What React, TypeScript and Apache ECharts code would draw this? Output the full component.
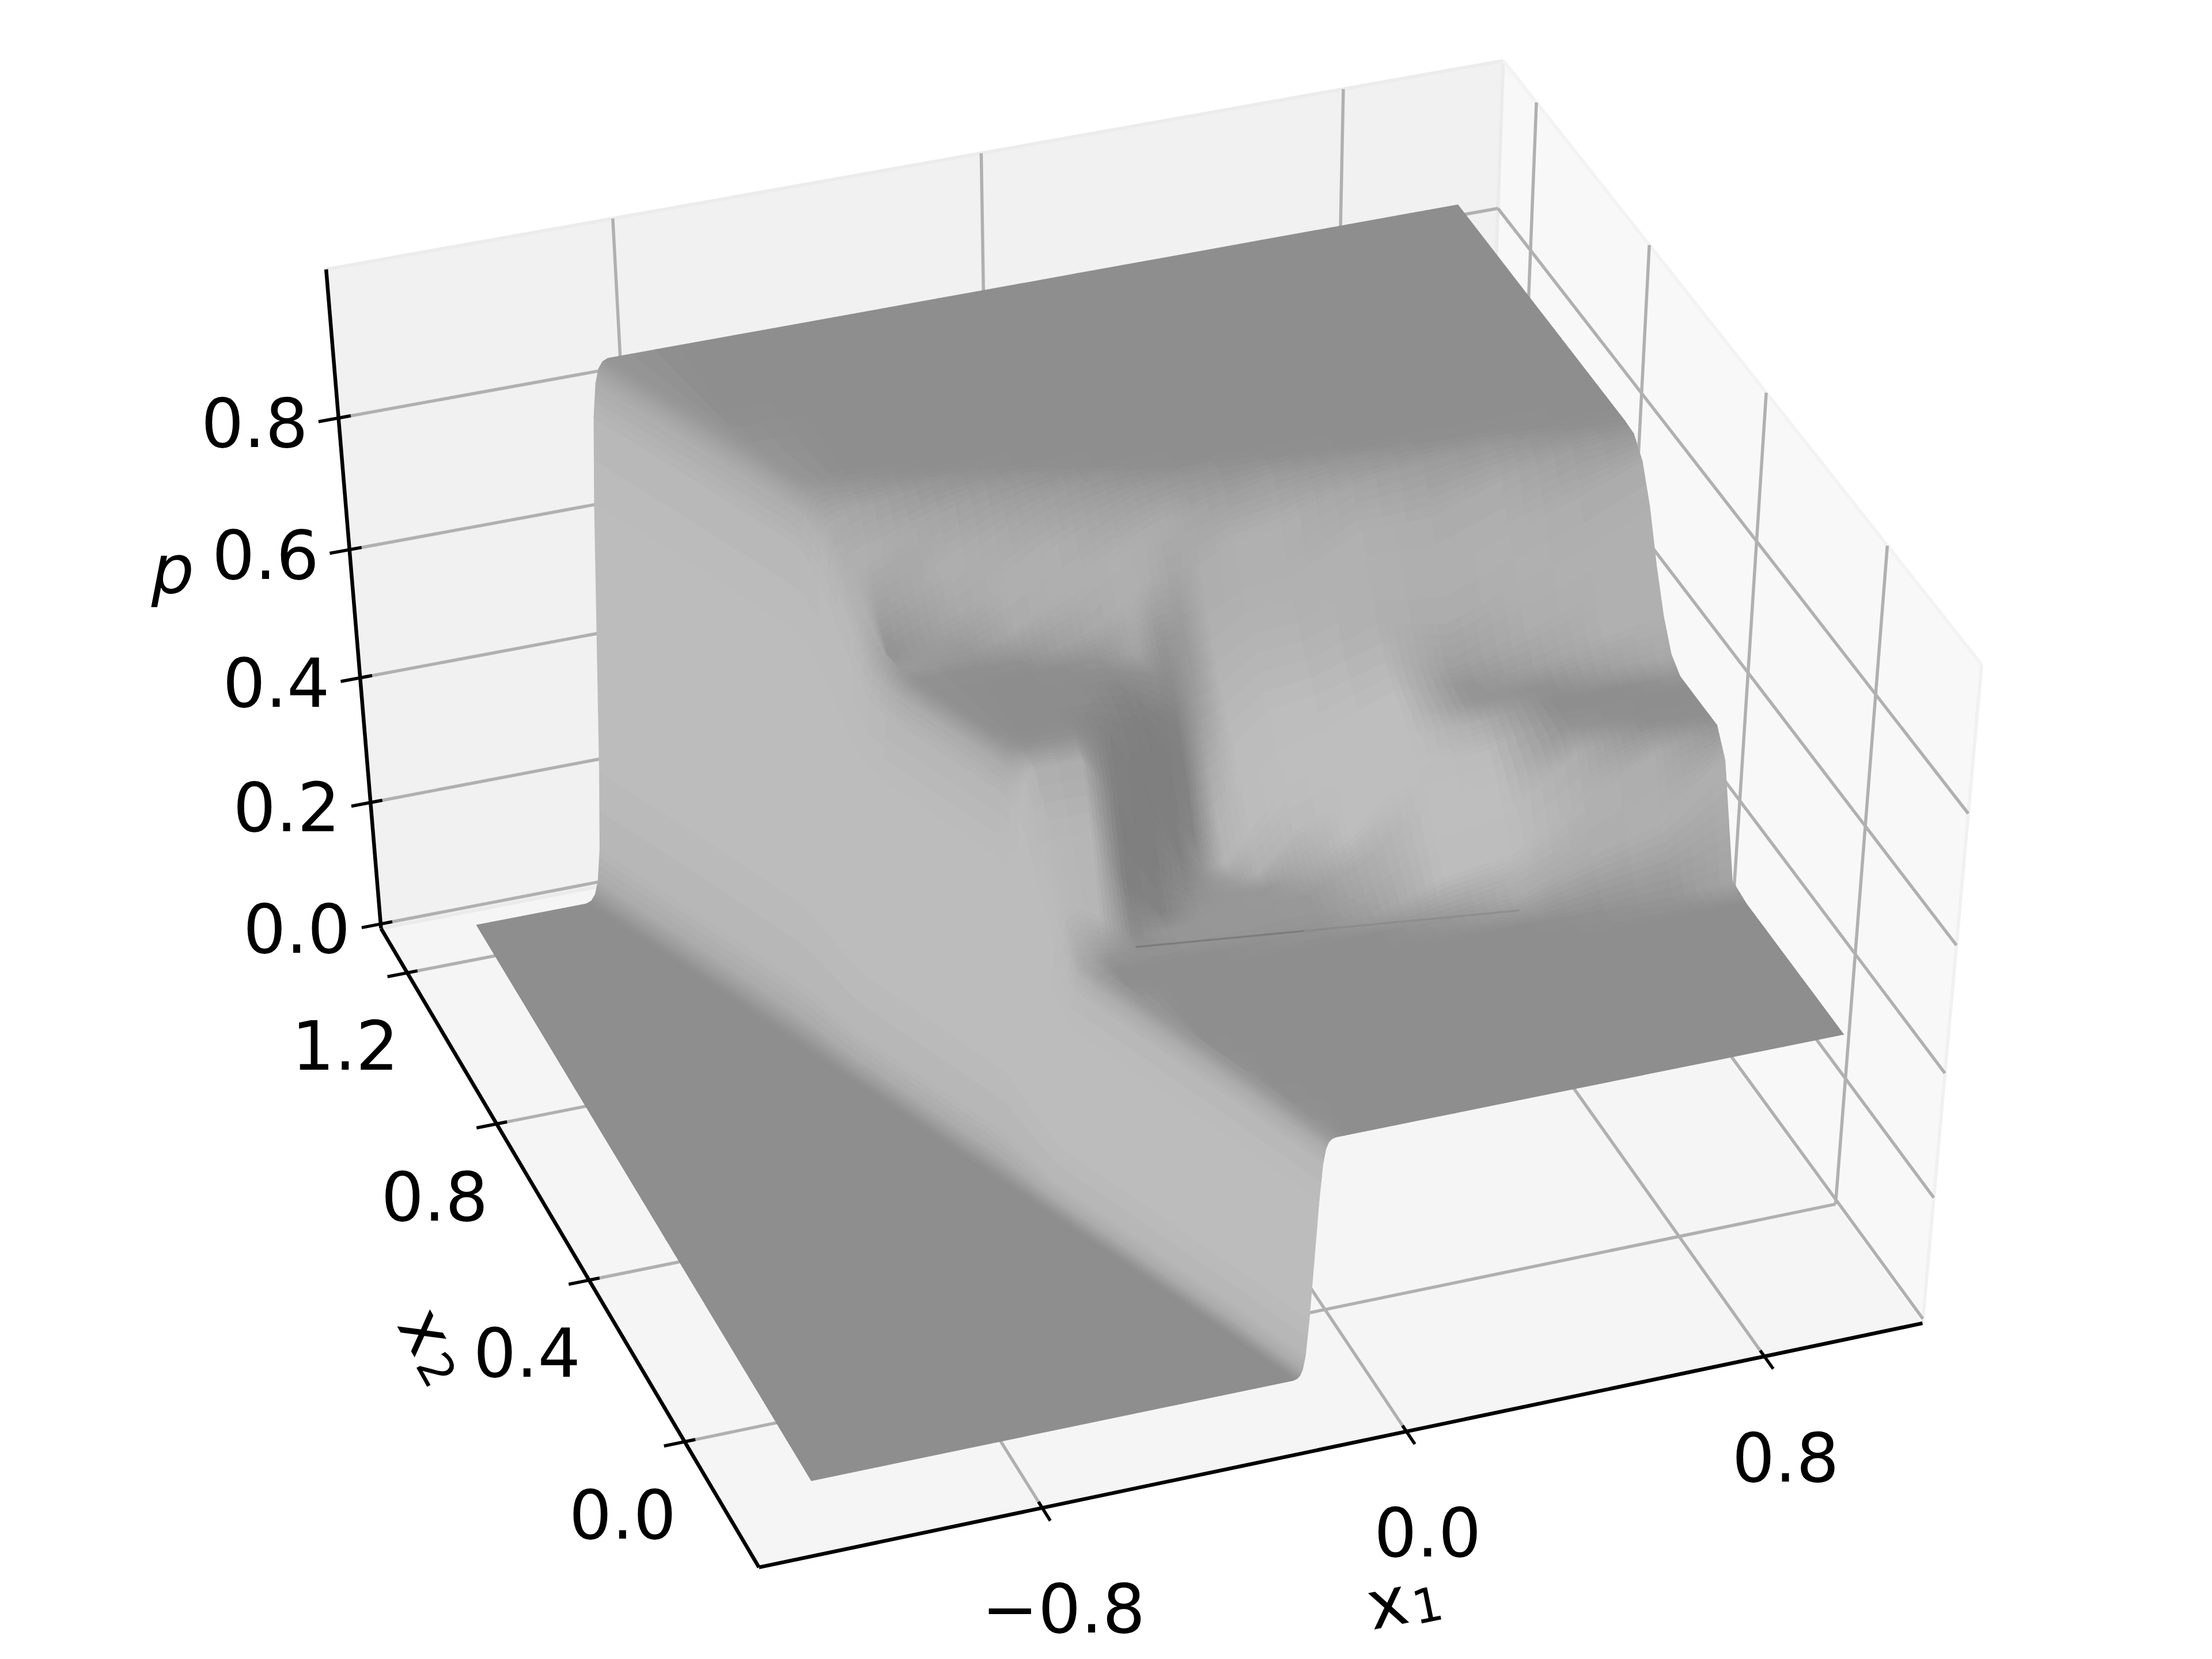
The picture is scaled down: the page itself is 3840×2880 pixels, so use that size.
import React, { useEffect, useRef } from "react";
import * as echarts from "echarts";

// ---------- values ----------
const x1Ticks = [-0.8, 0.0, 0.8];
const x2Ticks = [0.0, 0.4, 0.8, 1.2];
const pTicks = [0.0, 0.2, 0.4, 0.6, 0.8];

const x1Min = -1.2176;
const x2Rows = [-0.15, -0.01, 0.12, 0.185, 0.234, 0.282, 0.315, 0.347, 0.379, 0.412, 0.444, 0.477, 0.509, 0.542, 0.574, 0.606, 0.639, 0.671, 0.704, 0.736, 0.769, 0.801, 0.834, 0.866, 0.898, 0.963, 1.093, 1.272];
// foot and top of the front wave along each x2 row
const waveFoot = [-0.161, -0.2355, -0.31, -0.346, -0.374, -0.4026, -0.4206, -0.4386, -0.4566, -0.4746, -0.4926, -0.5106, -0.5312, -0.5492, -0.5672, -0.5852, -0.6032, -0.6212, -0.6392, -0.6597, -0.6777, -0.6957, -0.7137, -0.7317, -0.7497, -0.7857, -0.8603, -0.9657];
const waveTop = [-0.0776, -0.1437, -0.209, -0.2417, -0.2661, -0.2905, -0.307, -0.3232, -0.3435, -0.3648, -0.3859, -0.4042, -0.4216, -0.4391, -0.4566, -0.4741, -0.4916, -0.5091, -0.5263, -0.5437, -0.5612, -0.5787, -0.5962, -0.6125, -0.631, -0.668, -0.7425, -0.8492];
const waveTopP = [0.384, 0.384, 0.384, 0.384, 0.384, 0.384, 0.384, 0.384, 0.455, 0.545, 0.635, 0.652, 0.652, 0.652, 0.652, 0.652, 0.652, 0.652, 0.652, 0.66, 0.7, 0.76, 0.815, 0.843, 0.845, 0.845, 0.845, 0.845];
const waveTopGray = [150, 150, 150, 150, 150, 150, 155, 165, 184, 184, 180, 148, 145, 145, 145, 145, 145, 146, 155, 165, 176, 176, 170, 155, 150, 150, 150, 150];
const waveWidthFrac = [0, 0.1, 0.18, 0.25, 0.32, 0.4, 0.5, 0.6, 0.68, 0.75, 0.82, 0.9, 1];
const waveHeightFrac = [0, 0.004, 0.015, 0.04, 0.1, 0.25, 0.5, 0.75, 0.9, 0.96, 0.985, 0.996, 1];
const waveGray = [142, 146, 156, 170, 182, 187, 188, 188, 188, 188, 188, 188, 188];
const waveTopBlend = [0, 0, 0, 0, 0, 0, 0, 0, 0.15, 0.4, 0.7, 0.9, 1];

const x1Cols = [-0.693, -0.539, -0.385, -0.282, -0.205, -0.128, -0.05, 0.001, 0.052, 0.104, 0.181, 0.284, 0.438, 0.592, 0.747, 0.901, 1.035];
const creaseX1 = [-0.2165, 0.1312, 0.58];
const creaseX2 = [0.357, 0.318, 0.268];
const creaseP = 0.386;
const _ = null;
const pRows = [
  [_, _, _, _, _, _, 0.384, 0.384, 0.384, 0.384, 0.384, 0.384, 0.384, 0.384, 0.384, 0.384, 0.384],
  [_, _, _, _, _, 0.384, 0.384, 0.384, 0.384, 0.384, 0.384, 0.384, 0.384, 0.384, 0.384, 0.384, 0.384],
  [_, _, _, _, 0.384, 0.384, 0.384, 0.384, 0.384, 0.384, 0.384, 0.384, 0.384, 0.384, 0.384, 0.384, 0.384],
  [_, _, _, _, 0.384, 0.384, 0.384, 0.384, 0.384, 0.384, 0.384, 0.384, 0.384, 0.384, 0.384, 0.384, 0.384],
  [_, _, _, _, 0.384, 0.384, 0.384, 0.384, 0.384, 0.384, 0.384, 0.384, 0.384, 0.384, 0.384, 0.384, 0.39],
  [_, _, _, 0.384, 0.384, 0.384, 0.384, 0.384, 0.384, 0.384, 0.384, 0.384, 0.386, 0.4, 0.44, 0.47, 0.55],
  [_, _, _, 0.384, 0.384, 0.384, 0.384, 0.384, 0.384, 0.384, 0.385, 0.39, 0.43, 0.445, 0.505, 0.56, 0.585],
  [_, _, _, 0.384, 0.384, 0.384, 0.384, 0.384, 0.385, 0.39, 0.39, 0.405, 0.47, 0.485, 0.565, 0.585, 0.585],
  [_, _, _, 0.43, 0.39, 0.387, 0.388, 0.388, 0.39, 0.395, 0.4, 0.43, 0.51, 0.52, 0.585, 0.585, 0.585],
  [_, _, _, 0.545, 0.45, 0.392, 0.392, 0.395, 0.395, 0.4, 0.41, 0.46, 0.545, 0.55, 0.585, 0.585, 0.585],
  [_, _, 0.635, 0.635, 0.56, 0.45, 0.397, 0.4, 0.4, 0.405, 0.46, 0.49, 0.57, 0.575, 0.585, 0.585, 0.585],
  [_, _, 0.652, 0.652, 0.645, 0.56, 0.44, 0.405, 0.41, 0.45, 0.51, 0.53, 0.59, 0.585, 0.59, 0.595, 0.6],
  [_, _, 0.652, 0.652, 0.652, 0.62, 0.5, 0.435, 0.455, 0.5, 0.55, 0.565, 0.605, 0.59, 0.6, 0.625, 0.64],
  [_, _, 0.652, 0.652, 0.652, 0.64, 0.565, 0.51, 0.52, 0.545, 0.59, 0.6, 0.63, 0.6, 0.635, 0.67, 0.7],
  [_, _, 0.652, 0.652, 0.652, 0.652, 0.6, 0.57, 0.575, 0.59, 0.63, 0.635, 0.67, 0.65, 0.69, 0.725, 0.77],
  [_, _, 0.652, 0.652, 0.652, 0.652, 0.64, 0.625, 0.625, 0.635, 0.67, 0.675, 0.72, 0.71, 0.75, 0.785, 0.82],
  [_, _, 0.652, 0.652, 0.652, 0.652, 0.655, 0.668, 0.675, 0.69, 0.72, 0.725, 0.775, 0.775, 0.81, 0.838, 0.843],
  [_, _, 0.652, 0.653, 0.66, 0.68, 0.715, 0.74, 0.745, 0.75, 0.775, 0.785, 0.825, 0.838, 0.845, 0.845, 0.845],
  [_, _, 0.655, 0.68, 0.712, 0.74, 0.765, 0.785, 0.8, 0.81, 0.825, 0.838, 0.845, 0.845, 0.845, 0.845, 0.845],
  [_, 0.66, 0.7, 0.736, 0.765, 0.79, 0.815, 0.83, 0.838, 0.843, 0.845, 0.845, 0.845, 0.845, 0.845, 0.845, 0.845],
  [_, 0.705, 0.755, 0.79, 0.817, 0.838, 0.845, 0.845, 0.845, 0.845, 0.845, 0.845, 0.845, 0.845, 0.845, 0.845, 0.845],
  [_, 0.775, 0.815, 0.838, 0.845, 0.845, 0.845, 0.845, 0.845, 0.845, 0.845, 0.845, 0.845, 0.845, 0.845, 0.845, 0.845],
  [_, 0.825, 0.843, 0.845, 0.845, 0.845, 0.845, 0.845, 0.845, 0.845, 0.845, 0.845, 0.845, 0.845, 0.845, 0.845, 0.845],
  [_, 0.84, 0.845, 0.845, 0.845, 0.845, 0.845, 0.845, 0.845, 0.845, 0.845, 0.845, 0.845, 0.845, 0.845, 0.845, 0.845],
  [_, 0.845, 0.845, 0.845, 0.845, 0.845, 0.845, 0.845, 0.845, 0.845, 0.845, 0.845, 0.845, 0.845, 0.845, 0.845, 0.845],
  [_, 0.845, 0.845, 0.845, 0.845, 0.845, 0.845, 0.845, 0.845, 0.845, 0.845, 0.845, 0.845, 0.845, 0.845, 0.845, 0.845],
  [0.845, 0.845, 0.845, 0.845, 0.845, 0.845, 0.845, 0.845, 0.845, 0.845, 0.845, 0.845, 0.845, 0.845, 0.845, 0.845, 0.845],
  [0.845, 0.845, 0.845, 0.845, 0.845, 0.845, 0.845, 0.845, 0.845, 0.845, 0.845, 0.845, 0.845, 0.845, 0.845, 0.845, 0.845],
];
const grayRows = [
  [_, _, _, _, _, _, 142, 142, 142, 142, 142, 142, 142, 142, 142, 142, 142],
  [_, _, _, _, _, 142, 142, 142, 142, 142, 142, 142, 142, 142, 142, 142, 142],
  [_, _, _, _, 142, 142, 142, 142, 142, 142, 142, 142, 142, 142, 142, 142, 142],
  [_, _, _, _, 142, 142, 142, 142, 142, 142, 142, 142, 142, 142, 142, 142, 142],
  [_, _, _, _, 142, 142, 142, 142, 142, 142, 142, 142, 142, 142, 146, 150, 165],
  [_, _, _, 142, 142, 142, 142, 142, 142, 142, 142, 143, 152, 170, 172, 176, 176],
  [_, _, _, 142, 142, 142, 143, 144, 146, 146, 148, 158, 188, 188, 178, 172, 150],
  [_, _, _, 150, 146, 148, 150, 150, 150, 150, 152, 165, 190, 190, 172, 145, 142],
  [_, _, _, 180, 140, 150, 152, 152, 152, 152, 154, 172, 190, 190, 148, 142, 142],
  [_, _, _, 182, 128, 132, 148, 150, 150, 152, 165, 190, 190, 186, 143, 142, 142],
  [_, _, 175, 170, 127, 126, 140, 150, 158, 175, 185, 190, 190, 172, 142, 142, 150],
  [_, _, 146, 145, 130, 126, 128, 150, 180, 186, 190, 190, 190, 150, 145, 160, 170],
  [_, _, 141, 141, 134, 127, 126, 135, 178, 188, 190, 190, 188, 148, 160, 174, 176],
  [_, _, 141, 141, 139, 130, 126, 130, 170, 186, 188, 188, 182, 158, 172, 176, 176],
  [_, _, 141, 141, 141, 136, 130, 130, 160, 182, 184, 182, 176, 170, 176, 176, 176],
  [_, _, 141, 141, 141, 142, 145, 140, 155, 178, 180, 178, 176, 176, 176, 172, 170],
  [_, _, 141, 141, 143, 148, 165, 150, 155, 174, 176, 176, 176, 172, 170, 158, 153],
  [_, _, 142, 146, 158, 168, 176, 172, 165, 172, 176, 176, 165, 157, 153, 146, 144],
  [_, _, 150, 170, 175, 176, 176, 174, 172, 165, 160, 157, 150, 145, 144, 142, 142],
  [_, 146, 168, 176, 176, 170, 163, 158, 154, 150, 148, 145, 142, 142, 142, 142, 142],
  [_, 160, 176, 170, 163, 156, 150, 146, 144, 142, 142, 142, 142, 142, 142, 142, 142],
  [_, 176, 165, 156, 150, 145, 142, 142, 142, 142, 142, 142, 142, 142, 142, 142, 142],
  [_, 165, 150, 145, 142, 142, 142, 142, 142, 142, 142, 142, 142, 142, 142, 142, 142],
  [_, 150, 142, 142, 142, 142, 142, 142, 142, 142, 142, 142, 142, 142, 142, 142, 142],
  [_, 142, 142, 142, 142, 142, 142, 142, 142, 142, 142, 142, 142, 142, 142, 142, 142],
  [_, 142, 142, 142, 142, 142, 142, 142, 142, 142, 142, 142, 142, 142, 142, 142, 142],
  [142, 142, 142, 142, 142, 142, 142, 142, 142, 142, 142, 142, 142, 142, 142, 142, 142],
  [142, 142, 142, 142, 142, 142, 142, 142, 142, 142, 142, 142, 142, 142, 142, 142, 142],
];

// ---------- 3D camera fitted to the box ----------
const SCALE = 3840 / 1568;
const W_TOP = 0.996;
const toU = (x1: number) => 0.5496 + 0.389 * x1;
const toV = (x2: number) => 0.186 + 0.6167 * x2;
const toW = (p: number) => 0.0073 + 0.97 * p;
const depth = (u: number, v: number, w: number) => 1 + 0.02826 * u + 0.0707 * v - 0.0725 * w;
function project(u: number, v: number, w: number): [number, number] {
  const d = depth(u, v, w);
  return [
    (SCALE * (538 + 863.3 * u - 248.8 * v - 58.6 * w)) / d,
    (SCALE * (1111 - 146.5 * u - 406.3 * v - 516.1 * w)) / d,
  ];
}

type Node = { u: number; v: number; w: number; g: number };
function buildMesh(): Node[][] {
  return x2Rows.map((x2, i) => {
    const v = toV(x2);
    const row: Node[] = [{ u: toU(x1Min), v, w: toW(0), g: 142 }];
    waveWidthFrac.forEach((t, j) => {
      const x = waveFoot[i] + (waveTop[i] - waveFoot[i]) * t;
      const b = waveTopBlend[j];
      row.push({ u: toU(x), v, w: toW(waveTopP[i] * waveHeightFrac[j]), g: waveGray[j] * (1 - b) + waveTopGray[i] * b });
    });
    x1Cols.forEach((x, k) => {
      const p = pRows[i][k];
      if (p === null || x <= waveTop[i]) {
        row.push({ u: toU(waveTop[i]), v, w: toW(waveTopP[i]), g: waveTopGray[i] });
      } else {
        row.push({ u: toU(x), v, w: toW(p), g: grayRows[i][k] as number });
      }
    });
    return row;
  });
}

const grayHex = (g: number) => {
  const c = Math.max(0, Math.min(255, Math.round(g)));
  return `rgb(${c},${c},${c})`;
};

const FONT = { fontFamily: "DejaVu Sans", fontSize: 117, fill: "#000" };
const GRID = "#b0b0b0";

function frameItems() {
  const P = project;
  const items: any[] = [];
  const poly = (pts: number[][], fill: string) => items.push({ kind: "poly", pts: pts.map((q) => P(q[0], q[1], q[2])), fill });
  const line = (a: number[], b: number[], stroke: string, lw: number) =>
    items.push({ kind: "line", a: P(a[0], a[1], a[2]), b: P(b[0], b[1], b[2]), stroke, lw });
  const T = W_TOP;
  // panes
  poly([[0, 0, 0], [1, 0, 0], [1, 1, 0], [0, 1, 0]], "#f5f5f5");
  poly([[0, 1, 0], [1, 1, 0], [1, 1, T], [0, 1, T]], "#f1f1f1");
  poly([[1, 0, 0], [1, 1, 0], [1, 1, T], [1, 0, T]], "#f8f8f8");
  line([0, 1, 0], [1, 1, 0], "#ebebeb", 6);
  line([1, 1, 0], [1, 1, T], "#ebebeb", 6);
  line([0, 1, T], [1, 1, T], "#ececec", 6);
  line([1, 1, T], [1, 0, T], "#f3f3f3", 6);
  line([1, 0, T], [1, 0, 0], "#f1f1f1", 6);
  // grid lines
  x1Ticks.forEach((t) => {
    const u = toU(t);
    line([u, 0, 0], [u, 1, 0], GRID, 5.5);
    line([u, 1, 0], [u, 1, T], GRID, 5.5);
  });
  x2Ticks.forEach((t) => {
    const v = toV(t);
    line([0, v, 0], [1, v, 0], GRID, 5.5);
    line([1, v, 0], [1, v, T], GRID, 5.5);
  });
  pTicks.forEach((t) => {
    const w = toW(t);
    line([0, 1, w], [1, 1, w], GRID, 5.5);
    line([1, 1, w], [1, 0, w], GRID, 5.5);
  });
  // axis lines
  line([0, 0, 0], [1, 0, 0], "#000", 6.5);
  line([0, 0, 0], [0, 1, 0], "#000", 6.5);
  line([0, 1, 0], [0, 1, T], "#000", 6.5);
  // ticks and labels
  const label = (pos: number[], dx: number, dy: number, text: string) =>
    items.push({ kind: "text", pos: [pos[0] + dx * SCALE, pos[1] + dy * SCALE], text, rot: 0, style: {} });
  const fmt = (t: number) => (t < 0 ? "\u2212" : "") + Math.abs(t).toFixed(1);
  x1Ticks.forEach((t) => {
    const u = toU(t);
    line([u, -0.019, 0], [u, 0.009, 0], "#000", 5.5);
    label(P(u, 0, 0), 15, 72, fmt(t));
  });
  x2Ticks.forEach((t) => {
    const v = toV(t);
    line([-0.0175, v, 0], [0.009, v, 0], "#000", 5.5);
    label(P(0, v, 0), -44, 52, fmt(t));
  });
  pTicks.forEach((t) => {
    const w = toW(t);
    line([-0.0168, 1, w], [0.0103, 1, w], "#000", 5.5);
    label(P(0, 1, w), -59.5, 4, fmt(t));
  });
  return items;
}

const axisTitles = [
  { kind: "title", text: "x", sub: "1", pos: [2408, 2783], rot: 0.2 },
  { kind: "title", text: "x", sub: "2", pos: [740, 2310], rot: -1.06 },
  { kind: "text", text: "p", pos: [300, 989], rot: 0, style: { fontStyle: "italic" } },
];

export default function App() {
  const ref = useRef<HTMLDivElement>(null);
  useEffect(() => {
    const chart = echarts.init(ref.current!, undefined, { renderer: "svg" });
    const mesh = buildMesh();
    const quads: number[][] = [];
    for (let i = 0; i < mesh.length - 1; i++) {
      for (let j = 0; j < mesh[i].length - 1; j++) {
        const a = mesh[i][j], c = mesh[i + 1][j + 1];
        quads.push([i, j, depth((a.u + c.u) / 2, (a.v + c.v) / 2, (a.w + c.w) / 2)]);
      }
    }
    quads.sort((q, r) => r[2] - q[2]);
    const frame = frameItems();
    const texts: any[] = frame.filter((f) => f.kind === "text").concat(axisTitles as any[]);
    const lines = frame.filter((f) => f.kind !== "text");
    const crease = creaseX1.map((x, k) => project(toU(x), toV(creaseX2[k]), toW(creaseP)));

    const renderFrame = (_p: any, api: any) => {
      const f = lines[api.value(0)];
      if (f.kind === "poly") {
        return { type: "polygon", shape: { points: f.pts.map((q: number[]) => api.coord(q)) }, style: { fill: f.fill } };
      }
      const a = api.coord(f.a), b = api.coord(f.b);
      return { type: "line", shape: { x1: a[0], y1: a[1], x2: b[0], y2: b[1] }, style: { stroke: f.stroke, lineWidth: f.lw } };
    };
    const renderText = (_p: any, api: any) => {
      const t = texts[api.value(0)];
      const at = api.coord(t.pos);
      if (t.kind === "title") {
        return {
          type: "group",
          x: at[0],
          y: at[1],
          rotation: t.rot,
          children: [
            { type: "text", x: 0, y: 0, style: { text: t.text, align: "center", verticalAlign: "middle", ...FONT } },
            { type: "text", x: 68, y: 18, style: { text: t.sub, align: "center", verticalAlign: "middle", ...FONT, fontSize: 82 } },
          ],
        };
      }
      return {
        type: "text",
        x: at[0],
        y: at[1],
        rotation: t.rot,
        style: { text: t.text, align: "center", verticalAlign: "middle", ...FONT, ...t.style },
      };
    };
    const renderCrease = (_p: any, api: any) => {
      const k = api.value(0);
      const a = api.coord(crease[k]), b = api.coord(crease[k + 1]);
      return {
        type: "line",
        shape: { x1: a[0], y1: a[1], x2: b[0], y2: b[1] },
        style: { stroke: k === 0 ? "rgba(115,115,115,0.7)" : "rgba(125,125,125,0.4)", lineWidth: 3.5 },
      };
    };
    const renderQuad = (_p: any, api: any) => {
      const i = api.value(0), j = api.value(1);
      const nodes = [mesh[i][j], mesh[i][j + 1], mesh[i + 1][j + 1], mesh[i + 1][j]];
      const pts = nodes.map((n) => api.coord(project(n.u, n.v, n.w)));
      let area = 0;
      for (let k = 0; k < 4; k++) {
        const p = pts[k], q = pts[(k + 1) % 4];
        area += p[0] * q[1] - q[0] * p[1];
      }
      if (Math.abs(area) < 1) return null;
      const g = nodes.map((n) => n.g);
      const along = Math.max(Math.abs(g[1] - g[0]), Math.abs(g[2] - g[3]));
      const across = Math.max(Math.abs(g[3] - g[0]), Math.abs(g[2] - g[1]));
      const ns = Math.min(8, Math.max(1, Math.ceil(along / 3)));
      const nt = Math.min(8, Math.max(1, Math.ceil(across / 3)));
      if (ns === 1 && nt === 1) {
        const c = grayHex((g[0] + g[1] + g[2] + g[3]) / 4);
        return { type: "polygon", shape: { points: pts }, style: { fill: c, stroke: c, lineWidth: 1.5 } };
      }
      // draw the cell's shading as small flat pieces
      const at = (s: number, t: number) => [
        pts[0][0] * (1 - s) * (1 - t) + pts[1][0] * s * (1 - t) + pts[2][0] * s * t + pts[3][0] * (1 - s) * t,
        pts[0][1] * (1 - s) * (1 - t) + pts[1][1] * s * (1 - t) + pts[2][1] * s * t + pts[3][1] * (1 - s) * t,
      ];
      const children: any[] = [];
      for (let a = 0; a < ns; a++) {
        for (let b = 0; b < nt; b++) {
          const s0 = a / ns, s1 = (a + 1) / ns, t0 = b / nt, t1 = (b + 1) / nt;
          const sm = (s0 + s1) / 2, tm = (t0 + t1) / 2;
          const c = grayHex(g[0] * (1 - sm) * (1 - tm) + g[1] * sm * (1 - tm) + g[2] * sm * tm + g[3] * (1 - sm) * tm);
          children.push({
            type: "polygon",
            shape: { points: [at(s0, t0), at(s1, t0), at(s1, t1), at(s0, t1)] },
            style: { fill: c, stroke: c, lineWidth: 1.5 },
          });
        }
      }
      return { type: "group", children };
    };

    chart.setOption({
      animation: false,
      backgroundColor: "#fff",
      grid: { left: 0, right: 0, top: 0, bottom: 0 },
      xAxis: { type: "value", min: 0, max: 3840, show: false },
      yAxis: { type: "value", min: 0, max: 2880, inverse: true, show: false },
      series: [
        { type: "custom", coordinateSystem: "cartesian2d", clip: false, silent: true, data: lines.map((_l, k) => [k, 0]), encode: { x: 0, y: 1 }, renderItem: renderFrame, z: 1 },
        { type: "custom", coordinateSystem: "cartesian2d", clip: false, silent: true, progressive: 0, data: quads, encode: { x: 0, y: 1 }, renderItem: renderQuad, z: 2 },
        { type: "custom", coordinateSystem: "cartesian2d", clip: false, silent: true, data: creaseX1.slice(1).map((_c, k) => [k, 0]), encode: { x: 0, y: 1 }, renderItem: renderCrease, z: 3 },
        { type: "custom", coordinateSystem: "cartesian2d", clip: false, silent: true, data: texts.map((_t, k) => [k, 0]), encode: { x: 0, y: 1 }, renderItem: renderText, z: 4 },
      ],
    });
    return () => chart.dispose();
  }, []);
  return <div ref={ref} style={{ position: "absolute", left: 0, top: 0, width: 3840, height: 2880 }} />;
}
